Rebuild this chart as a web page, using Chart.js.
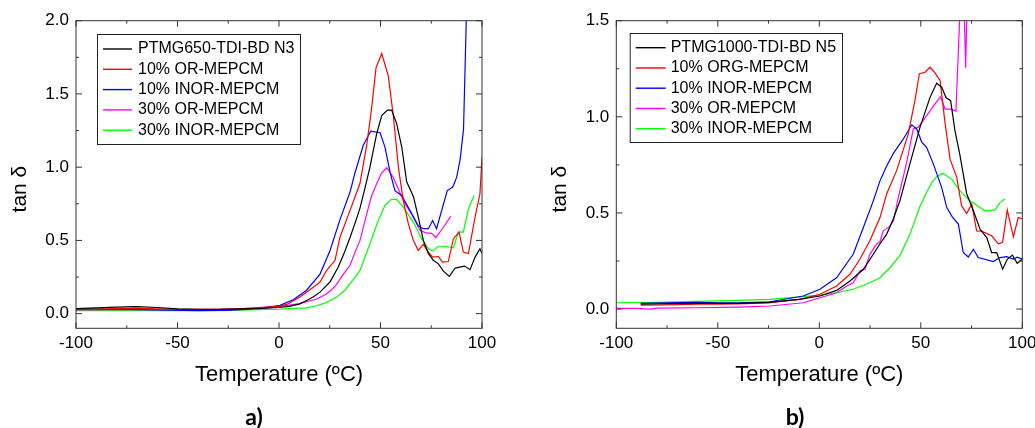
<!DOCTYPE html>
<html>
<head>
<meta charset="utf-8">
<title>tan δ vs temperature</title>
<script src="https://cdn.jsdelivr.net/npm/chart.js@4.4.1/dist/chart.umd.min.js"></script>
<style>
  html, body { margin: 0; padding: 0; background: #fff; }
  #wrap { position: relative; width: 1035px; height: 428px; overflow: hidden; }
  canvas { position: absolute; top: 0; }
  #chartA { left: 0; }
  #chartB { left: 517px; }
  .tag { position: absolute; top: 403px; width: 60px; margin-left: -30px; text-align: center;
         font: bold 23px Lato, "Liberation Sans", sans-serif; line-height: 26px; color: #000; }
</style>
</head>
<body>
<div id="wrap">
  <canvas id="chartA" width="517" height="428"></canvas>
  <canvas id="chartB" width="530" height="428"></canvas>
  <div class="tag" style="left:254px">a)</div>
  <div class="tag" style="left:795px">b)</div>
</div>
<script>
// axis ticks
const xTicks = [-100, -50, 0, 50, 100];
const aYTicks = [0, 0.5, 1.0, 1.5, 2.0];
const bYTicks = [0, 0.5, 1.0, 1.5];

// legend labels
const aLabels = ['PTMG650-TDI-BD N3', '10% OR-MEPCM', '10% INOR-MEPCM', '30% OR-MEPCM', '30% INOR-MEPCM'];
const bLabels = ['PTMG1000-TDI-BD N5', '10% ORG-MEPCM', '10% INOR-MEPCM', '30% OR-MEPCM', '30% INOR-MEPCM'];
const seriesColors = ['#000000', '#ff0000', '#0000ff', '#ff00ff', '#00ff00'];

// panel a) [temperature, tan delta]
const aN3 = [[-100,0.035],[-90,0.04],[-80,0.045],[-70,0.048],[-60,0.042],[-50,0.032],[-40,0.03],[-30,0.03],
  [-20,0.032],[-10,0.035],[0,0.042],[5,0.05],[10,0.065],[13.6,0.09],[17,0.115],[20.2,0.147],[25.1,0.216],
  [29.2,0.318],[32,0.41],[35,0.52],[37.5,0.62],[39.9,0.72],[42.4,0.86],[44.8,1.0],[48.1,1.228],[50.6,1.353],
  [53.4,1.39],[55.5,1.39],[58,1.296],[60.5,1.136],[62.9,0.9],[66.2,0.8],[68.6,0.66],[71.1,0.5],[73.6,0.41],
  [76,0.364],[78.5,0.34],[81,0.29],[83.9,0.254],[86.7,0.31],[88.4,0.316],[91.4,0.325],[94.1,0.3],[96.6,0.386],
  [99,0.443],[100,0.41]];
const aOR10 = [[-100,0.03],[-85,0.033],[-70,0.036],[-50,0.03],[-30,0.03],[-20,0.033],[-10,0.04],[0,0.05],
  [3.8,0.063],[10.3,0.113],[16.9,0.18],[20.2,0.216],[23.5,0.296],[27.6,0.364],[30,0.52],[35,0.705],[39.9,0.89],
  [43.2,1.15],[45.6,1.4],[47.8,1.68],[50.6,1.775],[53.8,1.626],[56.3,1.353],[58.8,1.0],[61.2,0.773],[63.7,0.614],
  [66.2,0.5],[68.6,0.432],[71.1,0.473],[73.6,0.42],[75.7,0.386],[78.5,0.39],[80.6,0.352],[83.4,0.356],
  [85.9,0.51],[88.7,0.557],[90.8,0.42],[93.3,0.41],[96.6,0.66],[99,0.82],[100,1.07]];
const aINOR10 = [[-100,0.03],[-80,0.03],[-60,0.025],[-40,0.02],[-25,0.022],[-15,0.03],[-5,0.045],[0.5,0.057],
  [7,0.095],[13.6,0.16],[20.2,0.27],[25.1,0.43],[30,0.64],[35,0.83],[37.4,0.96],[41.5,1.15],[45.2,1.246],
  [49.8,1.235],[52.2,1.137],[54.7,0.966],[57.1,0.84],[60.4,0.807],[64.5,0.705],[68.6,0.6],[71.1,0.58],
  [73.6,0.58],[75.7,0.636],[77.6,0.58],[82.9,0.84],[85.6,0.864],[87.5,0.93],[89.2,1.05],[90.9,1.26],[92.6,2.2]];
const aOR30 = [[-100,0.025],[-80,0.028],[-60,0.027],[-40,0.025],[-20,0.033],[-10,0.042],[0,0.05],[5,0.058],
  [10,0.068],[18.6,0.1],[23.5,0.136],[26,0.165],[28.4,0.2],[31.7,0.27],[35,0.33],[37.5,0.42],[39.9,0.5],
  [43.2,0.68],[45.5,0.8],[48.1,0.887],[50.5,0.96],[53.1,0.996],[56.3,0.93],[58.5,0.86],[61.2,0.773],
  [63.5,0.72],[66.2,0.66],[69.5,0.568],[72.8,0.55],[75,0.55],[77.3,0.52],[81,0.59],[84.6,0.664]];
const aINOR30 = [[-100,0.02],[-80,0.02],[-60,0.02],[-40,0.021],[-20,0.024],[0,0.03],[5,0.034],[13.6,0.04],
  [18,0.052],[21.8,0.068],[25,0.088],[28.4,0.113],[32.5,0.16],[35,0.205],[37.5,0.25],[39.9,0.295],
  [44.8,0.477],[48.9,0.636],[52.2,0.739],[55.5,0.78],[58,0.78],[61.2,0.727],[66.2,0.625],[70.3,0.51],
  [73.6,0.443],[75.7,0.427],[78.5,0.46],[81.8,0.46],[85.9,0.45],[88.4,0.557],[90.8,0.557],[93.3,0.716],[96.1,0.807]];

// panel b)
const bN5 = [[-88,0.025],[-75,0.028],[-60,0.03],[-50,0.03],[-40,0.03],[-25,0.035],[-10,0.05],[0.3,0.068],
  [8.5,0.097],[15.1,0.146],[21.7,0.207],[26.6,0.285],[29.9,0.34],[33.2,0.39],[36.5,0.47],[39.7,0.563],
  [44.6,0.754],[49.6,0.945],[54.5,1.1],[57.8,1.175],[60.3,1.154],[62.4,1.1],[64.7,1.084],[66.8,0.93],
  [69.3,0.8],[72.6,0.6],[75.9,0.511],[79.2,0.415],[82.5,0.372],[84.9,0.294],[87.4,0.294],[90.3,0.207],
  [92.6,0.259],[95.1,0.281],[97.5,0.238],[100,0.259]];
const bORG10 = [[-88,0.02],[-75,0.022],[-60,0.025],[-50,0.025],[-40,0.027],[-25,0.032],[-10,0.05],[0.3,0.077],
  [8.5,0.12],[15.1,0.181],[20,0.259],[24.9,0.355],[29.9,0.476],[33.2,0.6],[38.1,0.72],[43.8,0.91],[47.1,1.084],
  [49.3,1.224],[52.1,1.232],[54.5,1.258],[57,1.229],[59.5,1.189],[61.9,0.971],[64.4,0.78],[67.7,0.685],
  [70.1,0.537],[72.6,0.497],[75.1,0.546],[77.5,0.407],[80,0.405],[84.9,0.381],[88.2,0.339],[90.3,0.347],
  [92.6,0.515],[95.6,0.376],[98,0.476],[100,0.47]];
const bINOR10 = [[-88,0.03],[-75,0.033],[-60,0.035],[-50,0.032],[-40,0.032],[-24.3,0.038],[-7.9,0.068],
  [0.3,0.103],[8.5,0.163],[16.7,0.285],[21.7,0.424],[26.6,0.563],[29.9,0.667],[33,0.74],[36.5,0.81],
  [41.4,0.885],[45.5,0.958],[48,0.937],[50.4,0.87],[52.9,0.84],[56.2,0.754],[60.3,0.632],[62.8,0.528],
  [65.5,0.48],[68.5,0.442],[70.9,0.294],[73.4,0.271],[75.9,0.311],[78.3,0.268],[85.7,0.247],[89,0.268],
  [92.3,0.273],[95.6,0.26],[97.5,0.27],[100,0.26]];
const bOR30 = [[-100,0.004],[-90,0.004],[-83,0.0],[-80,0.005],[-60,0.007],[-40,0.01],[-24.3,0.016],[-7.9,0.033],
  [0.3,0.059],[8.5,0.085],[13.5,0.12],[16.7,0.137],[20,0.198],[22.5,0.207],[24.9,0.285],[28.2,0.337],
  [29.9,0.35],[31.5,0.407],[34.8,0.43],[36.5,0.459],[38.9,0.58],[43,0.76],[46.3,0.937],[48.8,0.946],
  [52.9,1.006],[57,1.067],[59.7,1.105],[62,1.04],[64.7,1.04],[67.3,1.03],[69.5,1.6],[71,1.7],[72.1,1.255],[73.2,1.8]];
const bINOR30 = [[-100,0.033],[-80,0.035],[-60,0.04],[-40,0.045],[-24.3,0.05],[-7.9,0.065],[0.3,0.073],
  [8.5,0.085],[16.7,0.103],[24.9,0.137],[29.9,0.163],[34.8,0.215],[39.8,0.28],[44.7,0.39],[49.6,0.535],
  [52.5,0.6],[55.4,0.658],[58,0.69],[60.8,0.707],[65.2,0.676],[69.3,0.615],[74.2,0.563],[77.5,0.54],
  [81.6,0.511],[86.5,0.515],[89,0.554],[91.5,0.572]];

Chart.defaults.font.family = '"Liberation Sans", Arial, sans-serif';
Chart.defaults.color = '#000';

function buildDatasets(labels, seriesList) {
  return seriesList.map((s, i) => ({
    label: labels[i],
    data: s.map(p => ({ x: p[0], y: p[1] })),
    borderColor: seriesColors[i],
    borderWidth: 1.2,
    pointRadius: 0,
    tension: 0,
    fill: false
  }));
}

// box around the plot with inward ticks on all four sides
const frameTicks = {
  id: 'frameTicks',
  afterDatasetsDraw(chart) {
    const { ctx, chartArea: a, scales: { x, y } } = chart;
    ctx.save();
    ctx.strokeStyle = '#333';
    ctx.lineWidth = 1;
    ctx.strokeRect(a.left, a.top, a.right - a.left, a.bottom - a.top);
    ctx.beginPath();
    for (let v = x.min; v <= x.max; v += 25) {
      const px = x.getPixelForValue(v);
      const len = v % 50 === 0 ? 6 : 3;
      ctx.moveTo(px, a.bottom); ctx.lineTo(px, a.bottom - len);
      ctx.moveTo(px, a.top); ctx.lineTo(px, a.top + len);
    }
    for (let k = 0; k * 0.25 <= y.max + 1e-9; k++) {
      const py = y.getPixelForValue(k * 0.25);
      const len = k % 2 === 0 ? 6 : 3;
      ctx.moveTo(a.left, py); ctx.lineTo(a.left + len, py);
      ctx.moveTo(a.right, py); ctx.lineTo(a.right - len, py);
    }
    ctx.stroke();
    ctx.restore();
  }
};

// legend drawn inside the plot, as in the figure
const boxLegend = {
  id: 'boxLegend',
  afterDatasetsDraw(chart, args, o) {
    const ctx = chart.ctx;
    ctx.save();
    ctx.fillStyle = '#fff';
    ctx.fillRect(o.x, o.y, o.w, o.h);
    ctx.strokeStyle = '#222';
    ctx.lineWidth = 1;
    ctx.strokeRect(o.x + 0.5, o.y + 0.5, o.w, o.h);
    ctx.font = '16px "Liberation Sans", Arial, sans-serif';
    ctx.textBaseline = 'middle';
    chart.data.datasets.forEach((ds, i) => {
      const yy = o.rowY + i * o.rowGap;
      ctx.strokeStyle = ds.borderColor;
      ctx.lineWidth = 1.4;
      ctx.beginPath();
      ctx.moveTo(o.lineX0, yy);
      ctx.lineTo(o.lineX1, yy);
      ctx.stroke();
      ctx.fillStyle = '#000';
      ctx.fillText(ds.label, o.textX, yy);
    });
    ctx.restore();
  }
};

function makeChart(id, datasets, yTicks, yMax, cfg) {
  return new Chart(document.getElementById(id), {
    type: 'line',
    data: { datasets: datasets },
    plugins: [frameTicks, boxLegend],
    options: {
      responsive: false,
      animation: false,
      devicePixelRatio: 1,
      layout: { padding: { top: 20.7, left: 0, right: cfg.right, bottom: 0 } },
      scales: {
        x: {
          type: 'linear',
          min: -100,
          max: 100,
          afterBuildTicks: s => { s.ticks = xTicks.map(v => ({ value: v })); },
          afterFit: s => { s.height = 99.7; },
          grid: { display: false, drawTicks: false },
          border: { display: false },
          ticks: { font: { size: 17 }, padding: 5, maxRotation: 0, callback: v => String(v) },
          title: { display: true, text: 'Temperature (ºC)', font: { size: 22 }, padding: { top: 0, bottom: 39.8 } }
        },
        y: {
          min: -0.1,
          max: yMax,
          afterBuildTicks: s => { s.ticks = yTicks.map(v => ({ value: v })); },
          afterFit: s => { s.width = cfg.yWidth; },
          grid: { display: false, drawTicks: false },
          border: { display: false },
          ticks: { font: { size: 17 }, padding: 7, callback: v => v.toFixed(1) },
          title: { display: true, text: 'tan δ     ', font: { size: 21 }, padding: { top: cfg.yTitlePad, bottom: 0 } }
        }
      },
      plugins: {
        legend: { display: false },
        tooltip: { enabled: false },
        boxLegend: cfg.legend
      }
    }
  });
}

makeChart('chartA', buildDatasets(aLabels, [aN3, aOR10, aINOR10, aOR30, aINOR30]), aYTicks, 2.0, {
  right: 35, yWidth: 76, yTitlePad: 8.1,
  legend: { x: 97, y: 34, w: 203, h: 110, lineX0: 103, lineX1: 132, textX: 138, rowY: 49, rowGap: 20.3 }
});

// canvas b runs past the window edge so the last "100" label is cut as in the figure
makeChart('chartB', buildDatasets(bLabels, [bN5, bORG10, bINOR10, bOR30, bINOR30]), bYTicks, 1.5, {
  right: 24.7, yWidth: 99.3, yTitlePad: 31.1,
  legend: { x: 112.7, y: 33, w: 212.3, h: 109, lineX0: 118.7, lineX1: 148.7, textX: 153.7, rowY: 47.7, rowGap: 20.25 }
});
</script>
</body>
</html>
